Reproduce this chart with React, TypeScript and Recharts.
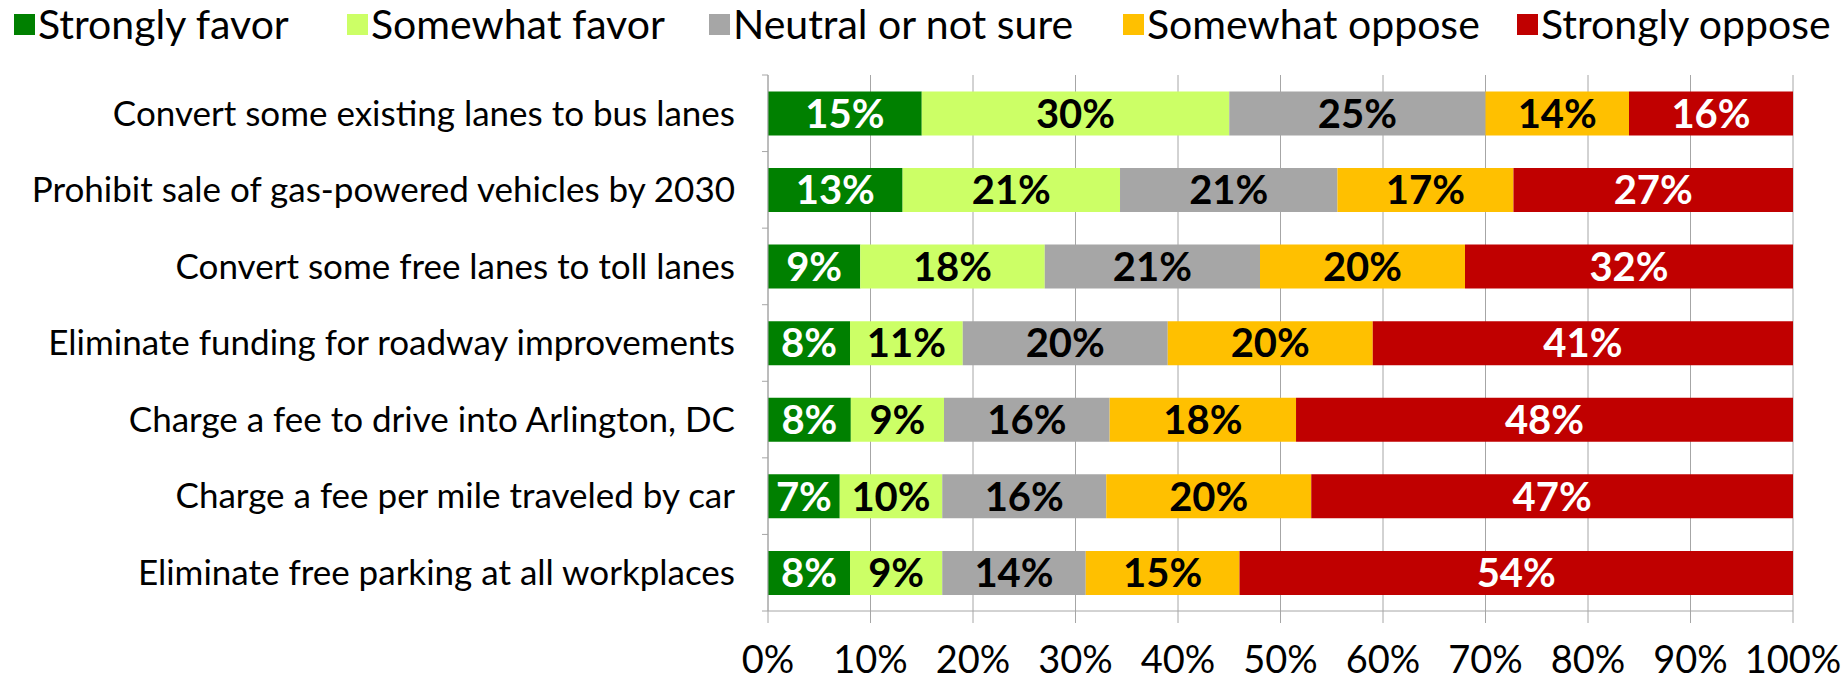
import React from 'react';
import { BarChart, Bar, XAxis, YAxis, CartesianGrid, Legend, LabelList } from 'recharts';

const categories = [
  'Convert some existing lanes to bus lanes',
  'Prohibit sale of gas-powered vehicles by 2030',
  'Convert some free lanes to toll lanes',
  'Eliminate funding for roadway improvements',
  'Charge a fee to drive into Arlington, DC',
  'Charge a fee per mile traveled by car',
  'Eliminate free parking at all workplaces',
];
const strongFavor = [15, 13, 9, 8, 8, 7, 8];
const someFavor = [30, 21, 18, 11, 9, 10, 9];
const neutral = [25, 21, 21, 20, 16, 16, 14];
const someOppose = [14, 17, 20, 20, 18, 20, 15];
const strongOppose = [16, 27, 32, 41, 48, 47, 54];
const xTicks = [0, 0.1, 0.2, 0.3, 0.4, 0.5, 0.6, 0.7, 0.8, 0.9, 1];

const seriesNames = ['Strongly favor', 'Somewhat favor', 'Neutral or not sure', 'Somewhat oppose', 'Strongly oppose'];
const seriesKeys = ['sf', 'swf', 'neu', 'swo', 'so'];
const seriesColors = ['#008000', '#CCFF66', '#A6A6A6', '#FFC000', '#C00000'];
const labelColors = ['#FFFFFF', '#000000', '#000000', '#000000', '#FFFFFF'];
const seriesValues = [strongFavor, someFavor, neutral, someOppose, strongOppose];

const data = categories.map((name, i) => {
  const row: any = { name };
  seriesKeys.forEach((k, s) => {
    row[k] = seriesValues[s][i];
  });
  return row;
});

const FONT = 'Lato, "Open Sans", sans-serif';
const GRID = '#A6A6A6';
const TICK_MARGIN = 33;

const legendLefts = [14, 347, 709, 1123, 1517];

function LegendContent() {
  return (
    <div style={{ position: 'relative', width: 1844, height: 48, fontFamily: FONT }}>
      {seriesNames.map((n, i) => (
        <div key={n} style={{ position: 'absolute', left: legendLefts[i], top: 0, height: 48, display: 'flex', alignItems: 'center' }}>
          <div style={{ width: 21, height: 21, background: seriesColors[i], marginRight: 3 }} />
          <span style={{ fontSize: 41, color: '#000', lineHeight: '48px' }}>{n}</span>
        </div>
      ))}
    </div>
  );
}

function YTick(props: any) {
  const { x, y, payload, index, visibleTicksCount } = props;
  const off = payload && typeof payload.offset === 'number' ? payload.offset : 0;
  const ax = x + TICK_MARGIN;
  return (
    <g>
      <text x={x} y={y} dy="0.35em" textAnchor="end" fontFamily={FONT} fontSize={35} fill="#000">
        {payload.value}
      </text>
      {off > 0 && <line x1={ax - 6} x2={ax} y1={y - off} y2={y - off} stroke={GRID} strokeWidth={1} />}
      {off > 0 && index === (visibleTicksCount ?? categories.length) - 1 && (
        <line x1={ax - 6} x2={ax} y1={y + off} y2={y + off} stroke={GRID} strokeWidth={1} />
      )}
    </g>
  );
}

export default function App() {
  return (
    <div style={{ position: 'absolute', left: 0, top: 0 }}>
      <BarChart
        width={1844}
        height={682}
        data={data}
        layout="vertical"
        stackOffset="expand"
        barCategoryGap="21.5%"
        margin={{ top: 27, right: 51, bottom: 0, left: 8 }}
      >
        <Legend verticalAlign="top" content={<LegendContent />} wrapperStyle={{ top: 0, left: 0, width: 1844, height: 48 }} />
        <CartesianGrid vertical={true} horizontal={false} stroke={GRID} />
        <XAxis
          type="number"
          domain={[0, 1]}
          ticks={xTicks}
          tickFormatter={(v: number) => `${Math.round(v * 100)}%`}
          axisLine={{ stroke: GRID }}
          tickLine={{ stroke: GRID }}
          tickSize={12}
          tickMargin={23}
          height={71}
          tick={{ fontFamily: FONT, fontSize: 38, fill: '#000' }}
          interval={0}
        />
        <YAxis
          type="category"
          dataKey="name"
          width={760}
          axisLine={{ stroke: GRID }}
          tickLine={false}
          tickSize={0}
          tickMargin={TICK_MARGIN}
          tick={<YTick />}
          interval={0}
        />
        {seriesKeys.map((k, s) => (
          <Bar key={k} dataKey={k} name={seriesNames[s]} stackId="a" fill={seriesColors[s]} isAnimationActive={false}>
            <LabelList
              dataKey={k}
              position="center"
              formatter={(v: any) => `${v}%`}
              fill={labelColors[s]}
              style={{ fontFamily: FONT, fontSize: 40, fontWeight: 700 }}
            />
          </Bar>
        ))}
      </BarChart>
    </div>
  );
}
